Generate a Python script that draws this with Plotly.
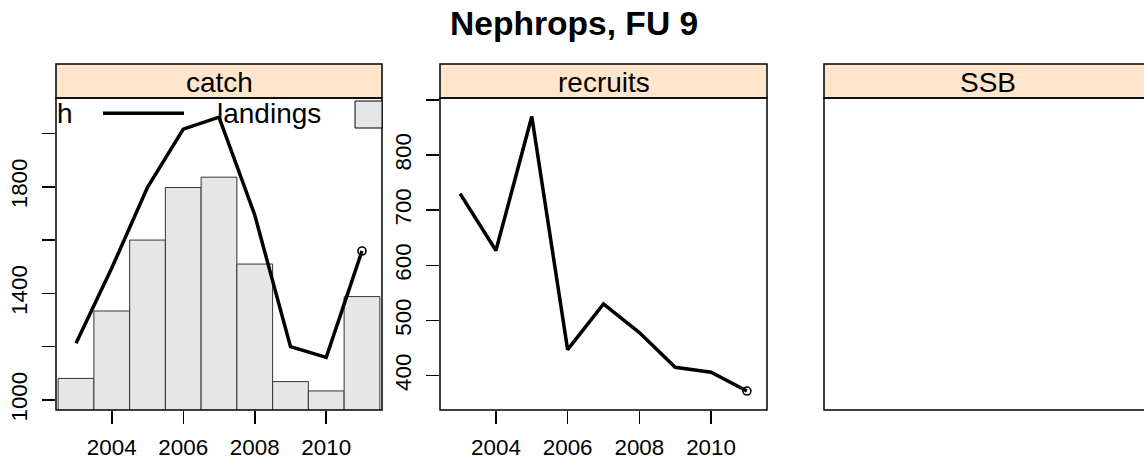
import plotly.graph_objects as go

# ---------------- data ----------------
years = [2003, 2004, 2005, 2006, 2007, 2008, 2009, 2010, 2011]
catch = [1213, 1495, 1798, 2016, 2061, 1694, 1200, 1160, 1559]
landings = [1081, 1334, 1600, 1797, 1836, 1510, 1069, 1034, 1388]
recruits = [730, 627, 870, 447, 530, 478, 415, 406, 372]

panel_titles = ["catch", "recruits", "SSB"]
legend_labels = ["catch", "landings"]
main_title = "Nephrops, FU 9"

x_ticks = [2004, 2006, 2008, 2010]
x_ticklabels = ["2004", "2006", "2008", "2010"]
catch_ticks = [1000, 1200, 1400, 1600, 1800, 2000]
catch_ticklabels = ["1000", "", "1400", "", "1800", ""]
recruit_ticks = [400, 500, 600, 700, 800, 900]
recruit_ticklabels = ["400", "500", "600", "700", "800", ""]

# ---------------- layout helpers ----------------
W, H = 1144, 463
FONT = "Liberation Sans, Arial, Helvetica, sans-serif"
STRIP = "#FFE5CC"
BARFILL = "#E6E6E6"

panels = [(56, 382), (440, 767), (824, 1151)]
p_top, p_bot, s_top = 98, 410, 64


def px(x):
    return x / W


def py(y):
    return (H - y) / H


fig = go.Figure()

# catch panel: landings bars + catch line
fig.add_trace(go.Bar(x=years, y=landings, width=1, marker=dict(color=BARFILL, line=dict(color="#333333", width=1)),
                     xaxis="x", yaxis="y", showlegend=False))
fig.add_trace(go.Scatter(x=years, y=catch, mode="lines", line=dict(color="black", width=3.5),
                         xaxis="x", yaxis="y", showlegend=False))
fig.add_trace(go.Scatter(x=years[-1:], y=catch[-1:], mode="markers",
                         marker=dict(symbol="circle-open", size=8, color="black", line=dict(width=1.6)),
                         xaxis="x", yaxis="y", showlegend=False))

# recruits panel
fig.add_trace(go.Scatter(x=years, y=recruits, mode="lines", line=dict(color="black", width=3.5),
                         xaxis="x2", yaxis="y2", showlegend=False))
fig.add_trace(go.Scatter(x=years[-1:], y=recruits[-1:], mode="markers",
                         marker=dict(symbol="circle-open", size=8, color="black", line=dict(width=1.6)),
                         xaxis="x2", yaxis="y2", showlegend=False))

xr = [2002.44, 2011.56]
tickfont = dict(family=FONT, size=22.4, color="black")

common_x = dict(range=xr, showgrid=False, zeroline=False, showline=False, automargin=False,
                tickmode="array", tickvals=x_ticks, ticktext=x_ticklabels,
                ticks="outside", ticklen=13, tickwidth=1.5, tickcolor="black",
                tickfont=tickfont, ticklabelstandoff=4, fixedrange=True)
common_y = dict(showgrid=False, zeroline=False, showline=False, automargin=False,
                ticks="outside", ticklen=13, tickwidth=1.5, tickcolor="black",
                tickfont=tickfont, tickangle=-90, ticklabelstandoff=6, tickmode="array", fixedrange=True)

yd = [py(p_bot), py(p_top)]

fig.update_layout(
    width=W, height=H, autosize=False,
    margin=dict(l=0, r=0, t=0, b=0, pad=0, autoexpand=False),
    paper_bgcolor="white", plot_bgcolor="white",
    bargap=0,
    xaxis=dict(domain=[px(panels[0][0]), px(panels[0][1])], anchor="y", **common_x),
    yaxis=dict(domain=yd, anchor="x", range=[962.5, 2133], tickvals=catch_ticks, ticktext=catch_ticklabels, **common_y),
    xaxis2=dict(domain=[px(panels[1][0]), px(panels[1][1])], anchor="y2", **common_x),
    yaxis2=dict(domain=yd, anchor="x2", range=[337.6, 903.6], tickvals=recruit_ticks, ticktext=recruit_ticklabels, **common_y),
    xaxis3=dict(domain=[px(panels[2][0]), 1.0], anchor="y3", range=[0, 1], visible=False, fixedrange=True),
    yaxis3=dict(domain=yd, anchor="x3", range=[0, 1], visible=False, fixedrange=True),
)

shapes = []
annotations = []
for (x0, x1), name in zip(panels, panel_titles):
    # strip
    shapes.append(dict(type="rect", xref="paper", yref="paper", x0=px(x0), x1=px(x1), y0=py(p_top), y1=py(s_top),
                       fillcolor=STRIP, line=dict(color="black", width=1.5), layer="above"))
    # panel border
    shapes.append(dict(type="rect", xref="paper", yref="paper", x0=px(x0), x1=px(x1), y0=py(p_bot), y1=py(p_top),
                       fillcolor="rgba(0,0,0,0)", line=dict(color="black", width=1.5), layer="above"))
    annotations.append(dict(text=name, xref="paper", yref="paper", x=px((x0 + x1) / 2), y=py(82),
                            xanchor="center", yanchor="middle", showarrow=False,
                            font=dict(family=FONT, size=28, color="black")))

# key inside catch panel (clipped first label shows only its last letter)
annotations.append(dict(text=legend_labels[0][-1], xref="paper", yref="paper", x=px(55), y=py(113.6),
                        xanchor="left", yanchor="middle", showarrow=False,
                        font=dict(family=FONT, size=28, color="black")))
shapes.append(dict(type="line", xref="paper", yref="paper", x0=px(103), x1=px(184), y0=py(113.3), y1=py(113.3),
                   line=dict(color="black", width=3.5)))
annotations.append(dict(text=legend_labels[1], xref="paper", yref="paper", x=px(215), y=py(113.6),
                        xanchor="left", yanchor="middle", showarrow=False,
                        font=dict(family=FONT, size=28, color="black")))
shapes.append(dict(type="rect", xref="paper", yref="paper", x0=px(355), x1=px(382), y0=py(128), y1=py(101),
                   fillcolor=BARFILL, line=dict(color="black", width=1)))

# main title
annotations.append(dict(text="<b>" + main_title + "</b>", xref="paper", yref="paper", x=px(574), y=py(23.5),
                        xanchor="center", yanchor="middle", showarrow=False,
                        font=dict(family=FONT, size=33.6, color="black")))

fig.update_layout(shapes=shapes, annotations=annotations)

fig.write_html("out.html", config={"displayModeBar": False, "staticPlot": True},
               post_script="document.body.style.margin='0';document.body.style.overflow='hidden';")
